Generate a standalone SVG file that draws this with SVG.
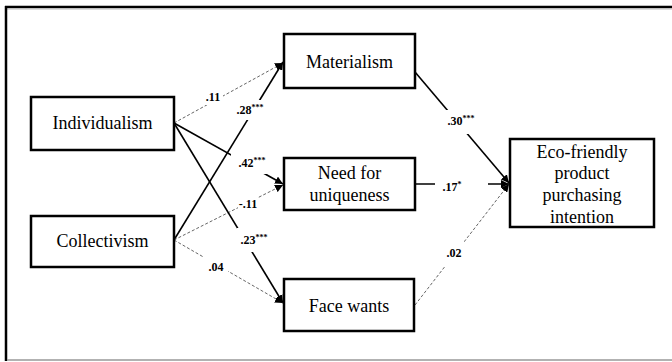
<svg xmlns="http://www.w3.org/2000/svg" width="672" height="362" viewBox="0 0 672 362">
<defs>
<style>
.box{fill:#fff;stroke:#000;stroke-width:2.5}
.nt{font-family:"Liberation Serif","Times New Roman",serif;font-size:18px;fill:#000;text-anchor:middle}
.lb{font-family:"Liberation Serif","Times New Roman",serif;font-size:12px;font-weight:bold;fill:#000;text-anchor:middle}
.sup{font-size:8px}
.solid{stroke:#000;stroke-width:1.6;fill:none}
.dash{stroke:#666;stroke-width:1;stroke-dasharray:3,2;fill:none}
.bg{fill:#fff}
</style>
<marker id="ah" viewBox="0 0 10 10" refX="10" refY="5" markerWidth="8" markerHeight="8" markerUnits="userSpaceOnUse" orient="auto">
<path d="M0,0 L10,5 L0,10 z" fill="#000"/>
</marker>
</defs>
<rect width="672" height="362" fill="#fff"/>
<g id="frame">
<line x1="5" y1="7" x2="672" y2="7" stroke="#000" stroke-width="2.5"/>
<line x1="7" y1="9" x2="672" y2="9" stroke="#bbb" stroke-width="1"/>
<line x1="6" y1="6" x2="6" y2="361" stroke="#000" stroke-width="2.5"/>
<line x1="7" y1="360" x2="672" y2="360" stroke="#999" stroke-width="1.5"/>
</g>
<g id="connectors">
<line class="dash" x1="174" y1="123" x2="283" y2="63" marker-end="url(#ah)"/>
<line class="solid" x1="174" y1="240" x2="283" y2="62" marker-end="url(#ah)"/>
<line class="solid" x1="174" y1="123" x2="283" y2="184" marker-end="url(#ah)"/>
<line class="dash" x1="174" y1="240" x2="283" y2="185" marker-end="url(#ah)"/>
<line class="solid" x1="174" y1="123" x2="283" y2="303" marker-end="url(#ah)"/>
<line class="dash" x1="174" y1="240" x2="283" y2="303" marker-end="url(#ah)"/>
<line class="solid" x1="415" y1="72" x2="509" y2="183" marker-end="url(#ah)"/>
<line class="solid" x1="415" y1="184" x2="509" y2="184" marker-end="url(#ah)"/>
<line class="dash" x1="415" y1="305" x2="509" y2="184" marker-end="url(#ah)"/>
</g>
<g id="labels">
<rect class="bg" x="203" y="89" width="20" height="16"/>
<text class="lb" x="213" y="101">.11</text>
<rect class="bg" x="233" y="100" width="34" height="20"/>
<text class="lb" x="250" y="114">.28<tspan class="sup" dy="-4">***</tspan></text>
<rect class="bg" x="231" y="152" width="38" height="22"/>
<text class="lb" x="252" y="167">.42<tspan class="sup" dy="-4">***</tspan></text>
<rect class="bg" x="238" y="196" width="20" height="16"/>
<text class="lb" x="248" y="208">-.11</text>
<rect class="bg" x="237" y="228" width="34" height="24"/>
<text class="lb" x="254" y="244">.23<tspan class="sup" dy="-4">***</tspan></text>
<rect class="bg" x="204" y="256" width="24" height="22"/>
<text class="lb" x="216" y="271">.04</text>
<rect class="bg" x="442" y="110" width="38" height="24"/>
<text class="lb" x="461" y="125">.30<tspan class="sup" dy="-4">***</tspan></text>
<rect class="bg" x="435" y="176" width="53" height="18"/>
<text class="lb" x="452" y="191">.17<tspan class="sup" dy="-4">*</tspan></text>
<rect class="bg" x="444" y="240" width="20" height="26"/>
<text class="lb" x="454" y="257">.02</text>
</g>
<g id="individualism">
<rect class="box" x="31" y="97" width="143" height="53"/>
<text class="nt" x="102.5" y="129">Individualism</text>
</g>
<g id="collectivism">
<rect class="box" x="31" y="216" width="143" height="51"/>
<text class="nt" x="102.5" y="247">Collectivism</text>
</g>
<g id="materialism">
<rect class="box" x="284" y="34" width="131" height="54"/>
<text class="nt" x="349.5" y="68">Materialism</text>
</g>
<g id="uniqueness">
<rect class="box" x="284" y="158" width="131" height="52"/>
<text class="nt" x="349.5" y="179">Need for</text>
<text class="nt" x="349.5" y="201">uniqueness</text>
</g>
<g id="facewants">
<rect class="box" x="284" y="279" width="130" height="52"/>
<text class="nt" x="349" y="312">Face wants</text>
</g>
<g id="ecofriendly">
<rect class="box" x="510" y="139" width="144" height="88"/>
<text class="nt" x="582" y="158">Eco-friendly</text>
<text class="nt" x="582" y="179">product</text>
<text class="nt" x="582" y="201">purchasing</text>
<text class="nt" x="582" y="223">intention</text>
</g>
</svg>
